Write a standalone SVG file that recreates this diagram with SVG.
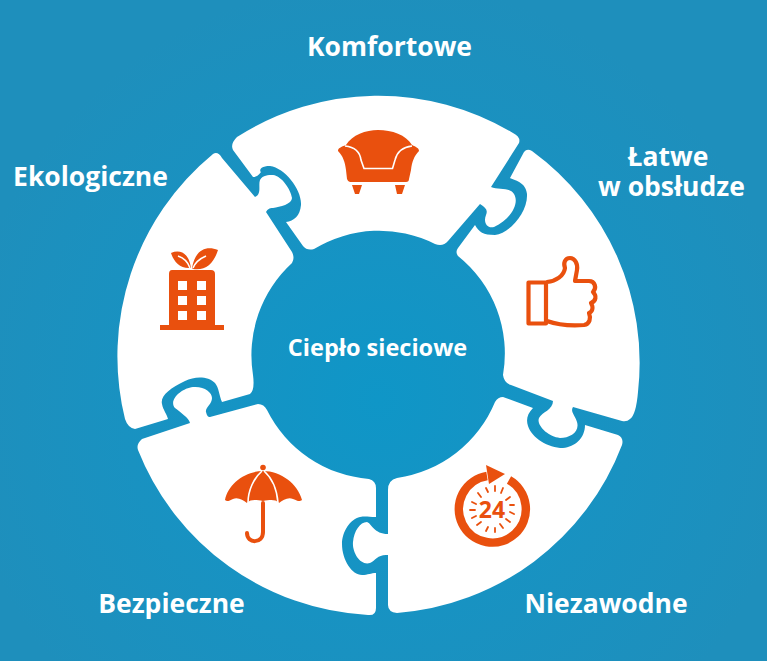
<svg xmlns="http://www.w3.org/2000/svg" width="767" height="661" viewBox="0 0 767 661">
<style>
.p{fill:#fff}
.o{fill:#e9500e}
.s{fill:none;stroke:#e9500e;stroke-linejoin:round;stroke-linecap:round}
.w{fill:none;stroke:#fff;stroke-width:1.6}
text{font-family:"Open Sans","Liberation Sans",sans-serif;font-weight:700;fill:#fff;font-size:26.500px;text-anchor:middle}
</style>
<defs>
<radialGradient id="bg" gradientUnits="userSpaceOnUse" cx="378" cy="400" r="420">
<stop offset="0" stop-color="#0f96c7"/><stop offset=".45" stop-color="#1793c3"/><stop offset="1" stop-color="#1e8fbc"/>
</radialGradient>
</defs>
<rect width="767" height="661" fill="url(#bg)"/>
<g id="komfortowe">
<path class="p" d="M233 150Q230 144 237 137A262 262 0 0 1 513 133Q521 137 519 143L491 187C498 190 510 187 514 194C520 204 510 220 494 227C487 229 483 222 486 215C488 210 486 208 480 204L448 241Q443 247 435 244A125 125 0 0 0 314 249Q307 251 303 246L286 222C294 221 300 216 301 205C302 190 285 168 270 166C258 166 260 172 261 172C258 176 256 177 253 177Z"/>
<path class="o" d="M338 151C338 148 341 147 346 145C352 135 366 130 378 130C392 130 406 135 412 145C416 147 419 148 419 151C414 156 412 162 411 170L409 179Q409 182 406 182H350Q348 182 347 179L346 170C345 162 343 156 338 151Z"/>
<path class="w" stroke-width="1.800" d="M345 146C354 147 360 152 361 160L364 168.500H392.500L395 160C397 152 403 147 412 146"/>
<path class="o" d="M352 185H362L359 194H355ZM395 185H405L402 194H397Z"/>
<text x="389.500" y="56">Komfortowe</text>
</g>
<g id="latwe">
<path class="p" d="M524 152Q527 148 532 151A262 262 0 0 1 638 392Q636 415 630 419Q627 422 622 421L573 407C570 412 575 415 577 422C580 432 570 438 560 438C548 437 536 425 539 418C542 412 553 410 553 401L511 385Q504 383 503 375A125 125 0 0 0 458 256Q455 252 458 248L475 225C479 232 483 235 495 235C510 233 528 212 527 194C526 182 514 180 510 178Z"/>
<path class="s" stroke-width="4.200" d="M528.500 282.500H546V323.500H528.500ZM547 282C556 281 564 276 565 268C563 263 565 258 570 258C575 258 578 264 577 270L575 281H589C595 281 597 288 593 292C597 296 596 301 591 303C594 308 592 312 589 313C591 318 590 324 584 325C570 326 558 325 547 321"/>
<text x="668" y="166">Łatwe</text>
<text x="671.500" y="196">w obsłudze</text>
</g>
<g id="niezawodne">
<path class="p" d="M388 490Q388 480 397 478A125 125 0 0 0 495 402Q498 397 503 397L533 408C527 414 526 420 528 426C532 438 548 448 563 448C575 447 585 438 585 425L618 435Q624 438 622 445A262 262 0 0 1 397 613Q388 612 388 605V555C378 554 376 560 370 563C360 566 352 552 353 542C354 531 360 522 367 522C372 524 374 534 388 534Z"/>
<path class="s" stroke-width="8.500" stroke-linecap="butt" style="stroke-linecap:butt" d="M509 480A33.500 33.500 0 1 1 487 476"/>
<path class="o" d="M486 465L505 474L489 484Z"/>
<path class="s" stroke-width="1.800" d="M495 486V491M503 488L501 493M510 497L506 500M514 505H510M514 514L510 512M510 522L506 519M503 528L500 524M495 532V528M486 531L488 527M477 525L481 522M472 518L476 516M470 510H475M472 502L476 504M478 493L481 497M486 488L488 492"/>
<text x="492" y="518" style="font-size:23px;fill:#e9500e">24</text>
<text x="606" y="613">Niezawodne</text>
</g>
<g id="bezpieczne">
<path class="p" d="M138 450Q136 444 142 439L190 423C189 418 180 412 175 408C168 400 182 388 193 387C204 386 212 392 212 398C212 404 205 408 206 412C207 416 208 417 210 417L258 404Q264 404 267 410A125 125 0 0 0 369 479Q376 481 376 488V517C368 517 366 516 360 517C350 519 342 532 342 544C342 560 352 575 362 575C368 575 371 573 376 573V608Q376 616 368 615A262 262 0 0 1 138 450Z"/>
<path class="o" d="M225 500C228 484 245 471 263 471C281 471 298 484 302 500C299 502 298 501 293 499C288 497 283 500 279 503C275 499 270 500 263 501C256 500 251 499 247 503C243 500 238 497 233 499C229 501 227 502 225 500Z"/>
<circle class="o" cx="263" cy="467.500" r="2.800"/>
<path class="w" d="M262 471C254 478 248 490 248 503M264 471C272 478 277 490 278 503"/>
<path class="s" stroke-width="4" d="M263 503V532C263 544 247 544 247 533"/>
<text x="171.500" y="613">Bezpieczne</text>
</g>
<g id="ekologiczne">
<path class="p" d="M213 154Q218 151 222 158L255 197C262 194 258 185 260 180C263 175 268 175 273 175C282 176 291 190 292 198C292 204 280 207 273 208C269 208 268 209 266 212L292 252Q295 258 292 263A125 125 0 0 0 253 375Q255 390 250 394L222 402C219 395 219 388 215 383C208 376 195 376 185 381C170 388 160 396 162 404C163 410 167 414 168 419L135 429Q128 428 125 419A262 262 0 0 1 213 154Z"/>
<path class="o" d="M172 270H211Q215 270 215 274V325H169V274Q169 270 172 270ZM160 325H224V330H160Z"/>
<path fill="#fff" d="M178 281h9v9h-9zM197 281h9v9h-9zM178 296h9v9h-9zM197 296h9v9h-9zM178 311h9v9h-9zM197 311h9v9h-9z"/>
<path class="o" d="M171 253C180 249 189 253 191 268C180 269 174 262 171 253ZM218 250C206 245 195 250 192 268L193 269C206 271 214 263 218 250Z"/>
<path class="w" stroke-width="1" d="M178 256C184 258 188 262 190 268M206 256C199 259 195 263 193 268"/>
<text x="90.500" y="186">Ekologiczne</text>
</g>
<g id="centrum">
<text x="377.500" y="356" style="font-size:23.500px">Ciepło sieciowe</text>
</g>
</svg>
